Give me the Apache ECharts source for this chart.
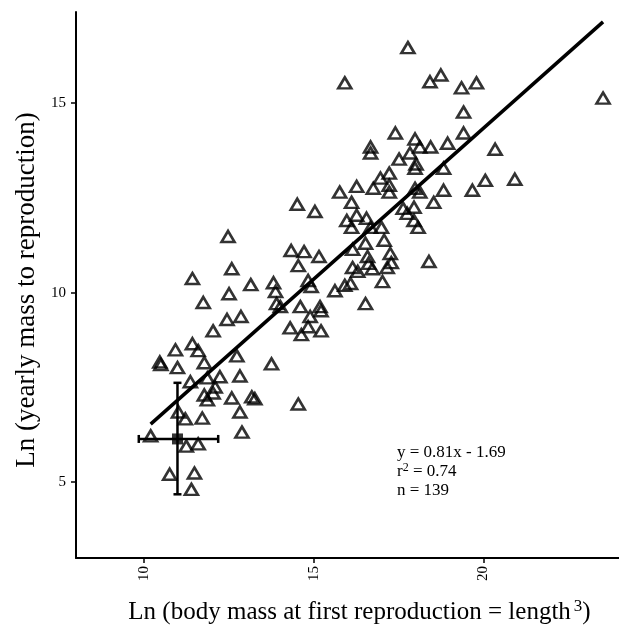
<!DOCTYPE html>
<html>
<head>
<meta charset="utf-8">
<script src="https://cdn.jsdelivr.net/npm/echarts@6/dist/echarts.min.js"></script>
<style>
  html, body { margin: 0; padding: 0; background: #fff; }
  #chart { width: 619px; height: 631px; }
</style>
</head>
<body>
<div id="chart"></div>
<script>
// species points: [ln body mass at first reproduction, ln yearly mass to reproduction]
const species = [
  [17.78, 16.46], [15.92, 15.53], [18.43, 15.56], [18.75, 15.74], [19.36, 15.40],
  [19.80, 15.53], [23.53, 15.13], [19.42, 14.76], [17.41, 14.21], [19.42, 14.21],
  [17.99, 14.05], [16.68, 13.84], [16.68, 13.68], [18.13, 13.84], [18.45, 13.84],
  [18.95, 13.94], [20.35, 13.78], [17.84, 13.68], [17.52, 13.52], [18.02, 13.39],
  [17.99, 13.28], [18.83, 13.28], [17.23, 13.15], [16.97, 13.02], [17.23, 12.83],
  [17.23, 12.65], [16.27, 12.80], [16.76, 12.75], [15.77, 12.65], [18.13, 12.65],
  [18.83, 12.70], [19.68, 12.70], [20.06, 12.96], [20.93, 12.99], [17.99, 12.75],
  [14.52, 12.33], [15.04, 12.14], [16.12, 12.38], [18.54, 12.38], [17.96, 12.25],
  [17.64, 12.22], [17.76, 12.09], [16.27, 12.04], [16.56, 11.96], [15.98, 11.90],
  [16.12, 11.72], [17.96, 11.90], [18.08, 11.72], [16.68, 11.72], [17.00, 11.72],
  [12.48, 11.48], [14.34, 11.11], [14.72, 11.08], [14.55, 10.71], [15.16, 10.95],
  [16.15, 11.14], [16.53, 11.30], [17.08, 11.38], [16.59, 10.95], [16.62, 10.77],
  [17.26, 11.03], [17.29, 10.79], [16.15, 10.66], [16.30, 10.56], [16.73, 10.63],
  [17.17, 10.66], [18.40, 10.82], [12.59, 10.63], [11.43, 10.37], [13.15, 10.21],
  [13.82, 10.26], [13.88, 10.03], [12.51, 9.97], [17.03, 10.29], [15.63, 10.05],
  [15.92, 10.19], [16.09, 10.24], [14.84, 10.32], [14.93, 10.16], [11.75, 9.74],
  [13.91, 9.71], [14.02, 9.63], [14.61, 9.63], [15.19, 9.63], [15.22, 9.52],
  [14.90, 9.37], [16.53, 9.71], [12.45, 9.29], [12.86, 9.37], [12.04, 8.99],
  [14.31, 9.07], [14.84, 9.10], [14.64, 8.89], [15.22, 8.99], [10.93, 8.49],
  [11.43, 8.65], [11.60, 8.47], [11.78, 8.15], [12.74, 8.33], [10.47, 8.17],
  [10.50, 8.10], [10.99, 8.02], [13.76, 8.12], [11.37, 7.65], [11.87, 7.75],
  [12.24, 7.78], [12.83, 7.80], [12.10, 7.51], [11.78, 7.30], [12.04, 7.35],
  [11.87, 7.17], [12.59, 7.22], [13.18, 7.25], [13.27, 7.20], [14.55, 7.06],
  [11.02, 6.85], [11.22, 6.67], [11.72, 6.69], [12.83, 6.85], [12.89, 6.32],
  [10.20, 6.22], [11.25, 5.95], [11.60, 6.01], [10.76, 5.21], [11.49, 5.24],
  [11.40, 4.81]
];

// fitted line as drawn
const fitLine = [[10.2, 6.53], [23.53, 17.14]];

// mean with ranges: [x, y, xLow, xHigh, yLow, yHigh]
const meanPoint = [10.99, 6.14, 9.85, 12.19, 4.68, 7.62];

const xTicks = [10, 15, 20];
const yTicks = [5, 10, 15];

const fitNotes = ['y = 0.81x - 1.69', 'r{sup|2} = 0.74', 'n = 139'];

const serif = '"Liberation Serif", "DejaVu Serif", serif';

function renderErrorBar(params, api) {
  const c = api.coord([api.value(0), api.value(1)]);
  const l = api.coord([api.value(2), api.value(1)]);
  const r = api.coord([api.value(3), api.value(1)]);
  const b = api.coord([api.value(0), api.value(4)]);
  const t = api.coord([api.value(0), api.value(5)]);
  const cap = 4;
  const style = { stroke: '#000', lineWidth: 2.5 };
  const seg = (x1, y1, x2, y2) => ({ type: 'line', shape: { x1, y1, x2, y2 }, style });
  return {
    type: 'group',
    children: [
      seg(l[0], c[1], r[0], c[1]),
      seg(l[0], c[1] - cap, l[0], c[1] + cap),
      seg(r[0], c[1] - cap, r[0], c[1] + cap),
      seg(c[0], b[1], c[0], t[1]),
      seg(c[0] - cap, b[1], c[0] + cap, b[1]),
      seg(c[0] - cap, t[1], c[0] + cap, t[1])
    ]
  };
}

const chart = echarts.init(document.getElementById('chart'), null, { renderer: 'canvas' });

chart.setOption({
  animation: false,
  backgroundColor: '#fff',
  grid: { left: 76, top: 12, right: -5, bottom: 73 },
  xAxis: {
    type: 'value',
    min: 8,
    max: 24,
    name: 'Ln (body mass at first reproduction = length{sup|3})',
    nameLocation: 'middle',
    nameGap: 40,
    nameTextStyle: {
      fontFamily: serif, fontSize: 25, color: '#000',
      padding: [0, 0, 0, 24],
      rich: { sup: { fontFamily: serif, fontSize: 17, color: '#000', verticalAlign: 'top', padding: [0, 0, 12, 3] } }
    },
    axisLine: { lineStyle: { color: '#000', width: 2 } },
    axisTick: { customValues: xTicks, length: 5, lineStyle: { color: '#000', width: 1.5 } },
    axisLabel: { customValues: xTicks, rotate: 90, margin: 8, fontFamily: serif, fontSize: 15, color: '#000' },
    splitLine: { show: false }
  },
  yAxis: {
    type: 'value',
    min: 3,
    max: 17.4,
    name: 'Ln (yearly mass to reproduction)',
    nameLocation: 'middle',
    nameGap: 34,
    nameTextStyle: { fontFamily: serif, fontSize: 27, color: '#000', padding: [0, 10, 0, 0] },
    axisLine: { lineStyle: { color: '#000', width: 2 } },
    axisTick: { customValues: yTicks, length: 5, lineStyle: { color: '#000', width: 1.5 } },
    axisLabel: { customValues: yTicks, margin: 10, fontFamily: serif, fontSize: 15, color: '#000' },
    splitLine: { show: false }
  },
  graphic: [
    {
      type: 'text',
      left: 397,
      top: 443,
      style: {
        text: fitNotes.join('\n'),
        fontFamily: serif,
        fontSize: 17,
        lineHeight: 19,
        fill: '#000',
        rich: { sup: { fontFamily: serif, fontSize: 12, fill: '#000', verticalAlign: 'top', lineHeight: 12 } }
      }
    }
  ],
  series: [
    {
      type: 'scatter',
      data: species,
      symbol: 'triangle',
      symbolSize: [13, 11],
      itemStyle: { color: 'rgba(0,0,0,0)', borderColor: '#000', borderWidth: 2.6 },
      z: 2
    },
    {
      type: 'line',
      data: fitLine,
      showSymbol: false,
      lineStyle: { color: '#000', width: 3.5 },
      z: 3
    },
    {
      type: 'custom',
      data: [meanPoint],
      renderItem: renderErrorBar,
      z: 4
    },
    {
      type: 'scatter',
      data: [meanPoint.slice(0, 2)],
      symbol: 'rect',
      symbolSize: 11,
      itemStyle: { color: '#000' },
      z: 5
    }
  ]
});
</script>
</body>
</html>
